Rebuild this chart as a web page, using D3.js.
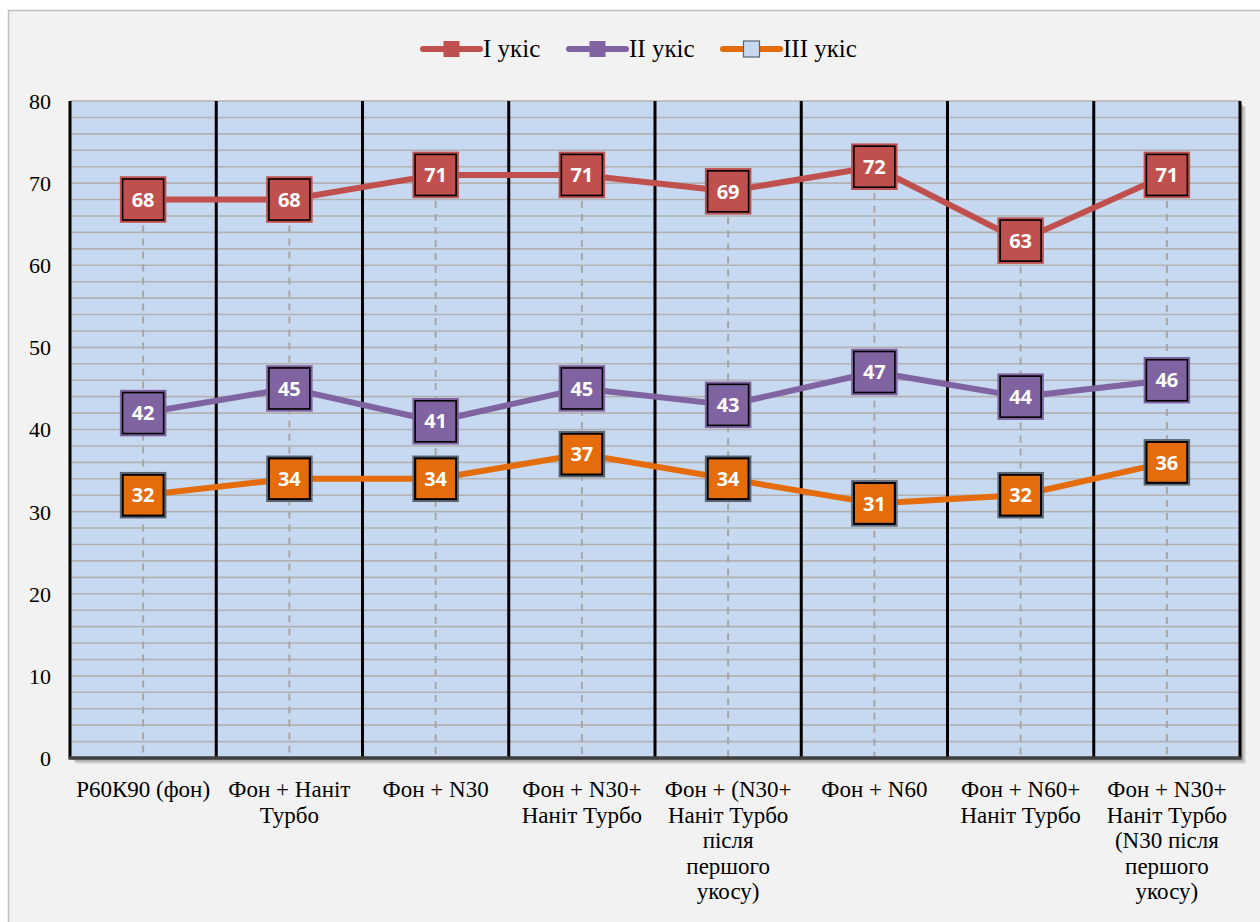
<!DOCTYPE html>
<html>
<head>
<meta charset="utf-8">
<script src="https://cdn.jsdelivr.net/npm/d3@7"></script>
<style>
  html, body { margin: 0; padding: 0; background: #ffffff; }
  svg { display: block; }
</style>
</head>
<body>
<script>
// Categories (each entry is a list of wrapped label lines)
const categories = [
  ["Р60К90 (фон)"],
  ["Фон + Наніт", "Турбо"],
  ["Фон + N30"],
  ["Фон + N30+", "Наніт Турбо"],
  ["Фон + (N30+", "Наніт Турбо", "після", "першого", "укосу)"],
  ["Фон + N60"],
  ["Фон + N60+", "Наніт Турбо"],
  ["Фон + N30+", "Наніт Турбо", "(N30 після", "першого", "укосу)"]
];
const seriesNames = ["І укіс", "ІІ укіс", "ІІІ укіс"];
const cut1 = [68, 68, 71, 71, 69, 72, 63, 71];
const cut2 = [42, 45, 41, 45, 43, 47, 44, 46];
const cut3 = [32, 34, 34, 37, 34, 31, 32, 36];
const yTicks = [0, 10, 20, 30, 40, 50, 60, 70, 80];

const SERIF = "'Liberation Serif', Tinos, 'Times New Roman', serif";
const SANS = "'Open Sans', 'Noto Sans', sans-serif";

const W = 1260, H = 922;
const plot = { left: 70, right: 1240, top: 101, bottom: 758 };

const series = [
  { name: seriesNames[0], values: cut1, line: "#C0504D", markFill: "#C0504D", markStroke: "#C0504D", labelFill: "#C0504D", labelStroke: "#000", labelStrokeW: 1.6 },
  { name: seriesNames[1], values: cut2, line: "#8064A2", markFill: "#8064A2", markStroke: "#8064A2", labelFill: "#8064A2", labelStroke: "#000", labelStrokeW: 1.6 },
  { name: seriesNames[2], values: cut3, line: "#E46C0A", markFill: "#C6D9F1", markStroke: "#5A6470", labelFill: "#E46C0A", labelStroke: "#000", labelStrokeW: 2.2 }
];

const svg = d3.select("body").append("svg").attr("width", W).attr("height", H)
  .style("font-family", SERIF);

// Chart area
svg.append("rect").attr("x", 8.5).attr("y", 10.5).attr("width", W + 10).attr("height", H + 10)
  .attr("fill", "#F2F2F2").attr("stroke", "#BFBFBF").attr("stroke-width", 1.5);

const x = d3.scaleBand().domain(d3.range(categories.length)).range([plot.left, plot.right]).paddingInner(0).paddingOuter(0);
const y = d3.scaleLinear().domain([0, 80]).range([plot.bottom, plot.top]);
const cx = i => x(i) + x.bandwidth() / 2;

// Soft shadow under the plot area, built from offset translucent layers
[6, 5, 4, 3, 2].forEach(o => {
  svg.append("rect").attr("x", plot.left + o).attr("y", plot.top + o)
    .attr("width", plot.right - plot.left).attr("height", plot.bottom - plot.top)
    .attr("fill", "#000").attr("opacity", 0.08);
});

// Plot area
svg.append("rect").attr("x", plot.left).attr("y", plot.top)
  .attr("width", plot.right - plot.left).attr("height", plot.bottom - plot.top)
  .attr("fill", "#C6D9F1");

// Horizontal gridlines every 2 units
svg.append("g").selectAll("line").data(d3.range(2, 81, 2)).join("line")
  .attr("x1", plot.left).attr("x2", plot.right)
  .attr("y1", d => y(d)).attr("y2", d => y(d))
  .attr("stroke", "#B2B2B2").attr("stroke-width", 1.6);

// Category separators
svg.append("g").selectAll("line").data(d3.range(categories.length + 1)).join("line")
  .attr("x1", i => i < categories.length ? x(i) : plot.right)
  .attr("x2", i => i < categories.length ? x(i) : plot.right)
  .attr("y1", plot.top).attr("y2", plot.bottom)
  .attr("stroke", "#000").attr("stroke-width", 3);

// Drop lines from the highest point to the axis
svg.append("g").selectAll("line").data(d3.range(categories.length)).join("line")
  .attr("x1", cx).attr("x2", cx)
  .attr("y1", i => y(d3.max(series, s => s.values[i])))
  .attr("y2", plot.bottom)
  .attr("stroke", "#A6A6A6").attr("stroke-width", 2).attr("stroke-dasharray", "7,6");

// Bottom axis line
svg.append("line").attr("x1", plot.left - 1.5).attr("x2", plot.right + 1.5)
  .attr("y1", plot.bottom).attr("y2", plot.bottom)
  .attr("stroke", "#3F3F3F").attr("stroke-width", 3.5);

// Y axis labels
const yAxis = d3.axisLeft(y).tickValues(yTicks).tickSize(0).tickPadding(0);
const gy = svg.append("g").attr("transform", `translate(51,0)`).call(yAxis);
gy.select(".domain").remove();
gy.attr("font-family", SERIF).attr("font-size", 22);
gy.selectAll("text")
  .attr("font-family", SERIF).attr("font-size", 22)
  .style("font-family", SERIF).style("font-size", "22px")
  .attr("fill", "#000").attr("dy", "0.34em");

// Category labels
const xl = svg.append("g").attr("font-family", SERIF);
categories.forEach((lines, i) => {
  const t = xl.append("text").attr("x", cx(i)).attr("y", 797)
    .attr("text-anchor", "middle")
    .attr("font-family", SERIF).attr("font-size", 23)
    .style("font-family", SERIF).style("font-size", "23px").attr("fill", "#000");
  lines.forEach((ln, k) => t.append("tspan").attr("x", cx(i)).attr("dy", k === 0 ? 0 : 25.5).text(ln));
});

// Series lines
const lineGen = d3.line().x((d, i) => cx(i)).y(d => y(d));
series.forEach(s => {
  svg.append("path").datum(s.values).attr("d", lineGen)
    .attr("fill", "none").attr("stroke", s.line).attr("stroke-width", 6).attr("stroke-linejoin", "round");
});

// Markers and value labels
const M = 45, L = 41;
series.forEach(s => {
  const g = svg.append("g");
  const pts = g.selectAll("g").data(s.values).join("g")
    .attr("transform", (d, i) => `translate(${cx(i)},${y(d)})`);
  pts.append("rect").attr("x", -M / 2).attr("y", -M / 2).attr("width", M).attr("height", M)
    .attr("fill", s.markFill).attr("stroke", s.markStroke).attr("stroke-width", 1.5);
  pts.append("rect").attr("x", -L / 2).attr("y", -L / 2).attr("width", L).attr("height", L)
    .attr("fill", s.labelFill).attr("stroke", s.labelStroke).attr("stroke-width", s.labelStrokeW);
  pts.append("text").attr("text-anchor", "middle").attr("dy", "0.36em")
    .style("font-family", SANS).style("font-weight", "bold").style("font-size", "20px")
    .attr("fill", "#fff").text(d => d);
});

// Legend
const legendX = [423, 569, 723];
const legend = svg.append("g").attr("font-family", SERIF);
series.forEach((s, k) => {
  const g = legend.append("g").attr("transform", `translate(${legendX[k]},49)`);
  g.append("line").attr("x1", 0).attr("x2", 57).attr("y1", 0).attr("y2", 0)
    .attr("stroke", s.line).attr("stroke-width", 6).attr("stroke-linecap", "round");
  g.append("rect").attr("x", 28.5 - 8).attr("y", -8).attr("width", 16).attr("height", 16)
    .attr("fill", s.markFill).attr("stroke", s.markStroke).attr("stroke-width", k === 2 ? 1.2 : 0);
  g.append("text").attr("x", 60).attr("y", 0).attr("dy", "0.33em")
    .attr("font-family", SERIF).attr("font-size", 25)
    .style("font-family", SERIF).style("font-size", "25px")
    .attr("fill", "#000").text(s.name);
});
</script>
</body>
</html>
